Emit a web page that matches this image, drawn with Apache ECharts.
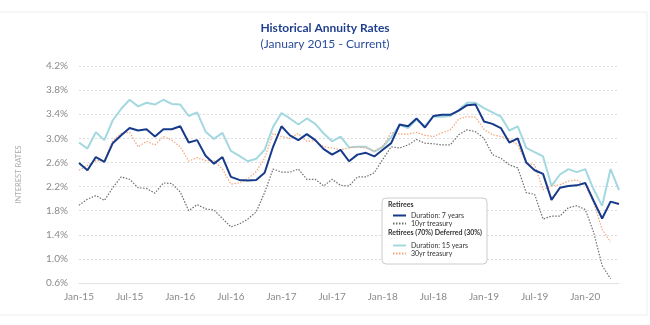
<!DOCTYPE html>
<html>
<head>
<meta charset="utf-8">
<script src="https://cdn.jsdelivr.net/npm/echarts@6/dist/echarts.min.js"></script>
<style>html,body{margin:0;padding:0;background:#fff;}#c{width:650px;height:325px;}</style>
</head>
<body>
<div id="c"></div>
<script>
var monthNames = ['Jan','Feb','Mar','Apr','May','Jun','Jul','Aug','Sep','Oct','Nov','Dec'];
var years = ['15','16','17','18','19','20'];
var categories = [];
years.forEach(function(y){ monthNames.forEach(function(m){ categories.push(m + '-' + y); }); });
categories = categories.slice(0, 65);

var yTicks = [0.6, 4.2, 0.4]; // min, max, step

var retirees7 = [2.59,2.47,2.69,2.61,2.92,3.05,3.17,3.13,3.15,3.03,3.15,3.15,3.20,2.93,2.97,2.71,2.58,2.69,2.36,2.31,2.30,2.31,2.43,2.86,3.20,3.05,2.97,3.07,2.97,2.82,2.73,2.81,2.62,2.73,2.76,2.70,2.81,2.92,3.23,3.20,3.33,3.18,3.37,3.39,3.39,3.46,3.55,3.56,3.28,3.24,3.17,2.93,3.00,2.60,2.47,2.41,1.98,2.18,2.21,2.22,2.26,1.96,1.67,1.95,1.91];
var treasury10 = [1.89,1.99,2.05,1.97,2.18,2.36,2.32,2.18,2.17,2.09,2.26,2.25,2.11,1.80,1.90,1.83,1.81,1.67,1.53,1.58,1.66,1.78,2.10,2.49,2.44,2.44,2.49,2.32,2.32,2.21,2.32,2.22,2.21,2.36,2.36,2.43,2.65,2.86,2.84,2.89,2.98,2.92,2.91,2.89,2.89,3.06,3.14,3.11,3.00,2.73,2.67,2.56,2.51,2.10,2.07,1.66,1.71,1.71,1.85,1.88,1.82,1.44,0.89,0.67];
var deferred15 = [2.93,2.83,3.10,2.97,3.30,3.49,3.64,3.53,3.59,3.56,3.64,3.57,3.56,3.37,3.43,3.11,2.99,3.09,2.79,2.71,2.62,2.66,2.81,3.19,3.42,3.33,3.23,3.33,3.24,3.08,2.95,3.03,2.85,2.86,2.86,2.78,2.86,3.02,3.22,3.17,3.31,3.20,3.36,3.36,3.37,3.47,3.59,3.59,3.50,3.43,3.36,3.13,3.20,2.84,2.77,2.70,2.21,2.40,2.49,2.44,2.49,2.15,1.88,2.49,2.14];
var treasury30 = [2.47,2.55,2.63,2.63,2.96,3.08,3.10,2.86,2.95,2.89,3.03,2.97,2.86,2.62,2.68,2.63,2.63,2.49,2.24,2.26,2.33,2.45,2.67,3.08,3.03,3.00,3.08,2.95,2.96,2.86,2.84,2.81,2.84,2.86,2.84,2.79,2.86,3.10,3.07,3.07,3.10,3.05,3.03,3.09,3.14,3.32,3.36,3.35,3.15,3.06,3.03,2.99,2.89,2.59,2.56,2.15,2.21,2.23,2.29,2.31,2.23,1.93,1.49,1.28];

var FONT = 'Lato, "Open Sans", sans-serif';
var legendText = {fontSize: 7, color: '#333', fontFamily: FONT, lineHeight: 8};
var chart = echarts.init(document.getElementById('c'), null, {renderer: 'canvas'});
chart.setOption({
  animation: false,
  backgroundColor: '#fff',
  textStyle: {fontFamily: FONT},
  title: {
    text: 'Historical Annuity Rates',
    subtext: '(January 2015 - Current)',
    left: 'center', top: 17, itemGap: 4,
    textStyle: {fontSize: 12, fontWeight: 'bold', color: '#1f3f8f', fontFamily: FONT},
    subtextStyle: {fontSize: 12, color: '#2b4c9b', fontFamily: FONT}
  },
  grid: {left: 79, right: 31, top: 66, bottom: 42},
  xAxis: {
    type: 'category', data: categories, boundaryGap: false,
    axisLine: {lineStyle: {color: '#e2e2e2'}},
    axisTick: {show: false},
    axisLabel: {interval: 5, color: '#8a8a8a', fontSize: 10, margin: 9, fontFamily: FONT},
    splitLine: {show: false}
  },
  yAxis: {
    type: 'value', min: yTicks[0], max: yTicks[1], interval: yTicks[2],
    name: 'INTEREST RATES', nameLocation: 'middle', nameGap: 56, nameRotate: 90,
    nameTextStyle: {fontSize: 7.5, color: '#aaaaaa', fontFamily: FONT},
    axisLine: {show: false}, axisTick: {show: false},
    axisLabel: {color: '#8a8a8a', fontSize: 10, margin: 11, fontFamily: FONT,
      formatter: function(v){ return v.toFixed(1) + '%'; }},
    splitLine: {lineStyle: {color: '#dcdcdc', type: [2, 2], width: 1}}
  },
  legend: [
    {data: ['Duration: 7 years', '10yr treasury'], orient: 'vertical', left: 387, top: 206.5, z: 100,
     itemWidth: 13, itemHeight: 7, itemGap: 0, itemStyle: {opacity: 0}, textStyle: legendText},
    {data: ['Duration: 15 years', '30yr treasury'], orient: 'vertical', left: 387, top: 236.5, z: 100,
     itemWidth: 13, itemHeight: 7, itemGap: 0, itemStyle: {opacity: 0}, textStyle: legendText}
  ],
  graphic: [
    {type: 'rect', z: -10, shape: {x: -1, y: 12, width: 648, height: 303}, style: {fill: 'none', stroke: '#eeeeee', lineWidth: 1}, silent: true},
    {type: 'rect', z: 50, shape: {x: 382, y: 198, width: 105, height: 66, r: 4}, style: {fill: '#fff', stroke: '#cccccc', lineWidth: 1}, silent: true},
    {type: 'text', z: 51, left: 388, top: 201, style: {text: 'Retirees', fill: '#333', font: 'bold 7px ' + FONT}},
    {type: 'text', z: 51, left: 388, top: 229.5, style: {text: 'Retirees (70%) Deferred (30%)', fill: '#333', font: 'bold 7px ' + FONT}}
  ],
  series: [
    {name: 'Duration: 15 years', type: 'line', data: deferred15, symbol: 'none', z: 2,
     lineStyle: {color: '#a4d8e1', width: 2}, itemStyle: {color: '#a4d8e1'}},
    {name: '30yr treasury', type: 'line', data: treasury30, symbol: 'none', z: 3,
     lineStyle: {color: '#f4a57c', width: 1.2, type: [1.5, 1.5]}, itemStyle: {color: '#f4a57c'}},
    {name: '10yr treasury', type: 'line', data: treasury10, symbol: 'none', z: 3,
     lineStyle: {color: '#6f6f6f', width: 1.2, type: [1.5, 1.5]}, itemStyle: {color: '#6f6f6f'}},
    {name: 'Duration: 7 years', type: 'line', data: retirees7, symbol: 'none', z: 4,
     lineStyle: {color: '#173a8a', width: 2}, itemStyle: {color: '#173a8a'}}
  ]
});
</script>
</body>
</html>
